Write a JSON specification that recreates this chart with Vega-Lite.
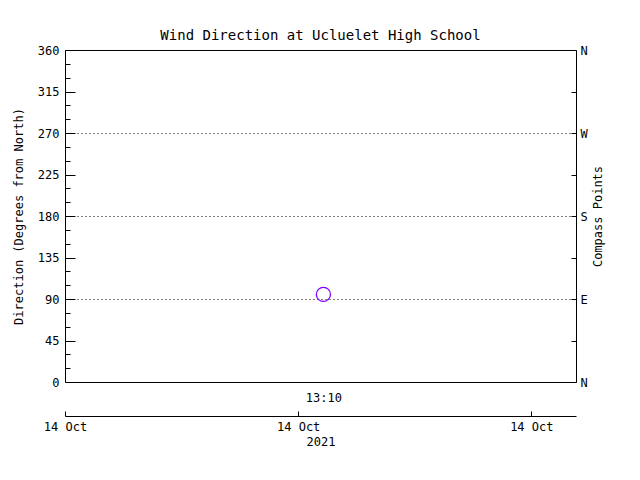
{
  "$schema": "https://vega.github.io/schema/vega-lite/v6.json",
  "width": 511,
  "height": 332,
  "autosize": "none",
  "padding": {"left": 65, "top": 50, "right": 64, "bottom": 98},
  "background": "white",
  "title": {
    "text": "Wind Direction at Ucluelet High School",
    "font": "DejaVu Sans Mono",
    "fontSize": 14,
    "fontWeight": "normal",
    "color": "black",
    "anchor": "middle",
    "frame": "group",
    "baseline": "alphabetic",
    "offset": -10
  },
  "config": {
    "view": {"stroke": "black", "strokeWidth": 1},
    "axis": {
      "labelFont": "DejaVu Sans Mono",
      "titleFont": "DejaVu Sans Mono",
      "labelFontSize": 12,
      "titleFontSize": 12,
      "titleFontWeight": "normal",
      "labelColor": "black",
      "titleColor": "black",
      "tickColor": "black",
      "domainColor": "black",
      "labelOverlap": false,
      "labelFlush": false
    }
  },
  "data": {"values": [{"time": "2021-10-14T13:10:00Z", "direction": 95}]},
  "layer": [
    {
      "mark": {"type": "point", "shape": "circle", "filled": false, "stroke": "#7f00ff", "strokeWidth": 1.3, "size": 200, "opacity": 1},
      "encoding": {
        "x": {
          "field": "time",
          "type": "temporal",
          "scale": {
            "type": "utc",
            "domain": [
              {"year": 2021, "month": 10, "date": 14, "hours": 12, "minutes": 3, "seconds": 30, "utc": true},
              {"year": 2021, "month": 10, "date": 14, "hours": 14, "minutes": 15, "seconds": 0, "utc": true}
            ]
          },
          "axis": {
            "orient": "bottom",
            "offset": 34,
            "values": [
              {"year": 2021, "month": 10, "date": 14, "hours": 12, "minutes": 3, "seconds": 30, "utc": true},
              {"year": 2021, "month": 10, "date": 14, "hours": 13, "minutes": 3, "seconds": 30, "utc": true},
              {"year": 2021, "month": 10, "date": 14, "hours": 14, "minutes": 3, "seconds": 30, "utc": true}
            ],
            "format": "%d %b",
            "tickSize": -5,
            "domain": true,
            "grid": false,
            "labelPadding": 10,
            "title": "2021",
            "titlePadding": 4
          }
        },
        "y": {
          "field": "direction",
          "type": "quantitative",
          "scale": {"domain": [0, 360], "nice": false},
          "axis": {
            "orient": "left",
            "values": [0, 15, 30, 45, 60, 75, 90, 105, 120, 135, 150, 165, 180, 195, 210, 225, 240, 255, 270, 285, 300, 315, 330, 345, 360],
            "tickSize": {"condition": {"test": "datum.value % 45 === 0", "value": -10}, "value": -5},
            "labelExpr": "datum.value % 45 === 0 ? datum.label : ''",
            "domain": false,
            "grid": true,
            "gridColor": "black",
            "gridDash": [1, 3],
            "gridOpacity": {"condition": {"test": "datum.value === 90 || datum.value === 180 || datum.value === 270", "value": 1}, "value": 0},
            "labelPadding": 16,
            "title": "Direction (Degrees from North)",
            "titlePadding": 12
          }
        }
      }
    },
    {
      "mark": {"type": "point", "shape": "circle", "filled": false, "stroke": "#7f00ff", "size": 200, "opacity": 0},
      "encoding": {
        "x": {
          "field": "time",
          "type": "temporal",
          "axis": {
            "orient": "bottom",
            "values": [{"year": 2021, "month": 10, "date": 14, "hours": 13, "minutes": 10, "utc": true}],
            "format": "%H:%M",
            "ticks": false,
            "domain": false,
            "grid": false,
            "labelPadding": 10,
            "title": null
          }
        },
        "y": {
          "field": "direction",
          "type": "quantitative",
          "axis": {
            "orient": "right",
            "values": [0, 45, 90, 135, 180, 225, 270, 315, 360],
            "tickSize": -5,
            "labelExpr": "datum.value === 0 || datum.value === 360 ? 'N' : datum.value === 90 ? 'E' : datum.value === 180 ? 'S' : datum.value === 270 ? 'W' : ''",
            "domain": false,
            "grid": false,
            "labelPadding": 9,
            "title": "Compass Points",
            "titleAngle": 270,
            "titlePadding": 17
          }
        }
      }
    }
  ],
  "resolve": {"scale": {"x": "shared", "y": "shared"}, "axis": {"x": "independent", "y": "independent"}}
}
